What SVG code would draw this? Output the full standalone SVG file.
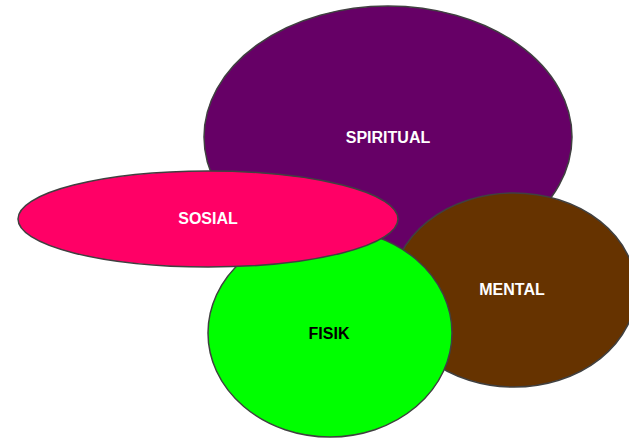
<svg xmlns="http://www.w3.org/2000/svg" width="629" height="439" viewBox="0 0 629 439">
<style>
.shape{stroke:#404040;stroke-width:1.5}
.lbl{font-family:"Liberation Sans",Arial,sans-serif;font-weight:bold;font-size:16px;text-anchor:middle}
</style>
<rect width="629" height="439" fill="#ffffff"/>
<g id="connectors"></g>
<g id="spiritual">
<ellipse class="shape" cx="388" cy="137" rx="184" ry="131" fill="#660066"/>
<text class="lbl" x="388" y="143" fill="#ffffff">SPIRITUAL</text>
</g>
<g id="mental">
<ellipse class="shape" cx="514" cy="290" rx="122" ry="97" fill="#663300"/>
<text class="lbl" x="512" y="295" fill="#ffffff">MENTAL</text>
</g>
<g id="fisik">
<ellipse class="shape" cx="330" cy="333" rx="122" ry="104" fill="#00ff00"/>
<text class="lbl" x="329" y="339" fill="#000000">FISIK</text>
</g>
<g id="sosial">
<ellipse class="shape" cx="208" cy="219" rx="190" ry="48" fill="#ff0066"/>
<text class="lbl" x="208" y="224" fill="#ffffff">SOSIAL</text>
</g>
</svg>
